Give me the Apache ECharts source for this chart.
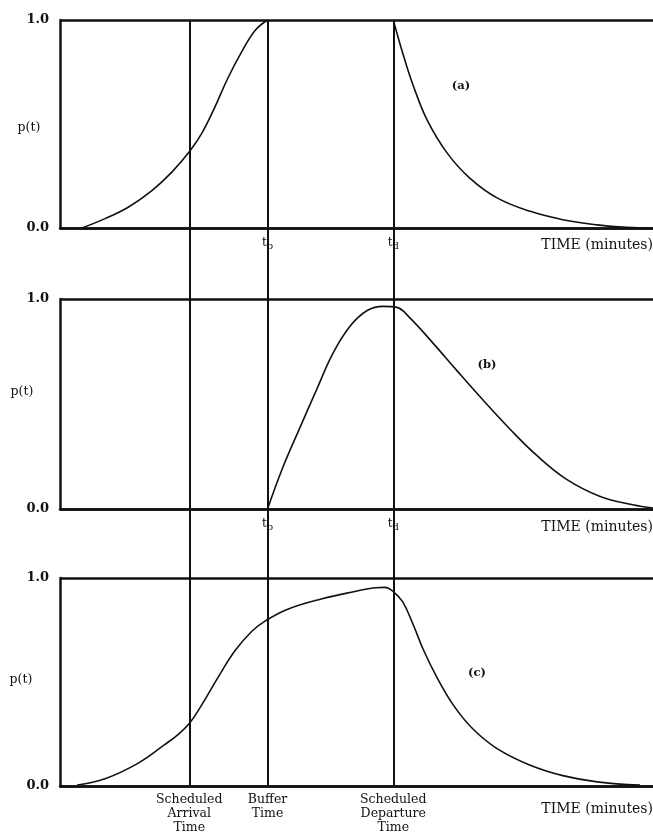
<!DOCTYPE html>
<html>
<head>
<meta charset="utf-8">
<script src="https://cdn.jsdelivr.net/npm/echarts@6/dist/echarts.min.js"></script>
<style>
  html, body { margin: 0; padding: 0; background: #fff; }
  #main { width: 653px; height: 840px; }
</style>
</head>
<body>
<div id="main"></div>
<script>
var myChart = echarts.init(document.getElementById('main'));

// time axis runs 0..100 (arbitrary minutes)
var markTimes = [21.8, 35, 56.2];
var markNames = ['Scheduled\nArrival\nTime', 'Buffer\nTime', 'Scheduled\nDeparture\nTime'];

// (a) rise up to buffer time, flat at 1, decay after departure
var curveARise = [[3.7, 0], [7.6, 0.045], [11.5, 0.1], [15.5, 0.18], [18.9, 0.27], [21.9, 0.37],
    [24.0, 0.46], [26.1, 0.58], [28.3, 0.72], [30.7, 0.85], [32.9, 0.95], [35, 1.0]];
var curveADecay = [[56.2, 1.0], [57.8, 0.84], [59.5, 0.69], [61.9, 0.52], [65.3, 0.36], [69.1, 0.24],
    [73.7, 0.145], [79.3, 0.08], [84.8, 0.04], [90.6, 0.015], [95.6, 0.003], [100, 0]];
// (b)
var curveB = [[35, 0], [37.6, 0.2], [40.5, 0.39], [43.3, 0.57], [46.0, 0.74], [48.9, 0.87],
    [51.8, 0.945], [54.5, 0.965], [56.8, 0.96], [59.0, 0.91], [62.9, 0.79], [66.9, 0.66],
    [71.3, 0.52], [75.9, 0.38], [80.4, 0.255], [85.5, 0.14], [91.1, 0.06], [96.6, 0.02], [100, 0.004]];
// (c)
var curveC = [[2.9, 0.005], [7.6, 0.035], [13.2, 0.11], [17.7, 0.2], [19.8, 0.245], [21.8, 0.3],
    [23.9, 0.39], [26.6, 0.52], [29.5, 0.65], [32.4, 0.745], [34.7, 0.795], [38.4, 0.85], [44.2, 0.9],
    [49.7, 0.935], [53.1, 0.953], [54.8, 0.955], [56.2, 0.935], [57.8, 0.885], [59.5, 0.78], [61.2, 0.66],
    [63.6, 0.52], [66.3, 0.39], [69.6, 0.275], [73.7, 0.18], [79.3, 0.1], [84.8, 0.05], [90.6, 0.02],
    [97.8, 0.004]];

var FONT = 'DejaVu Serif';
var INK = '#111';

var grids = [
    {left: 60, right: 0, top: 20, height: 208},
    {left: 60, right: 0, top: 299, height: 210},
    {left: 60, right: 0, top: 578, height: 208},
    {left: 60, right: 0, top: 20, height: 766}   // overlay for the long vertical lines
];

function panelXAxis(idx, labelVals, formatter, rich, margin) {
    return {
        type: 'value', gridIndex: idx, min: 0, max: 100,
        axisLine: {show: true, onZero: false, lineStyle: {color: INK, width: 2.5}},
        axisTick: {show: false},
        splitLine: {show: false},
        axisLabel: {
            customValues: labelVals,
            formatter: formatter,
            rich: rich,
            margin: margin,
            color: INK, fontFamily: FONT, fontSize: 12.5, lineHeight: 14
        }
    };
}

function panelYAxis(idx) {
    return {
        type: 'value', gridIndex: idx, min: 0, max: 1, interval: 1,
        axisLine: {show: true, lineStyle: {color: INK, width: 2.5}},
        axisTick: {show: false},
        splitLine: {show: true, lineStyle: {color: INK, width: 2.5}},
        axisLabel: {
            formatter: function (v) { return v.toFixed(1); },
            margin: 11, color: INK, fontFamily: FONT, fontSize: 13, fontWeight: 'bold'
        }
    };
}

var subRich = {
    t: {fontFamily: FONT, fontSize: 12, color: INK},
    s: {fontFamily: FONT, fontSize: 10, color: INK, padding: [6, 0, 0, 0]}
};
function subLabel(v) {
    var i = markTimes.indexOf(v);
    return '{t|t}{s|' + (i === 1 ? 'b' : 'd') + '}';
}
function nameLabel(v) {
    return markNames[markTimes.indexOf(v)];
}

function curveSeries(idx, data) {
    return {
        type: 'line', xAxisIndex: idx, yAxisIndex: idx, data: data,
        smooth: 0.4, showSymbol: false, silent: true,
        lineStyle: {color: INK, width: 1.6}, z: 3
    };
}

function freeText(x, y, text, align, size, weight) {
    return {
        type: 'text', x: x, y: y, silent: true,
        style: {text: text, fill: INK, font: (weight || 'normal') + ' ' + size + 'px "' + FONT + '"',
            align: align, verticalAlign: 'middle'}
    };
}

var option = {
    backgroundColor: '#fff',
    animation: false,
    grid: grids,
    xAxis: [
        panelXAxis(0, [markTimes[1], markTimes[2]], subLabel, subRich, 8),
        panelXAxis(1, [markTimes[1], markTimes[2]], subLabel, subRich, 8),
        panelXAxis(2, markTimes, nameLabel, null, 7),
        {type: 'value', gridIndex: 3, min: 0, max: 100, show: false}
    ],
    yAxis: [
        panelYAxis(0), panelYAxis(1), panelYAxis(2),
        {type: 'value', gridIndex: 3, min: 0, max: 1, show: false}
    ],
    series: [
        curveSeries(0, curveARise),
        curveSeries(0, curveADecay),
        curveSeries(1, curveB),
        curveSeries(2, curveC),
        {
            type: 'line', xAxisIndex: 3, yAxisIndex: 3, data: [], silent: true,
            markLine: {
                symbol: ['none', 'none'], silent: true, animation: false,
                label: {show: false},
                lineStyle: {color: INK, width: 2, type: 'solid'},
                data: markTimes.map(function (t) { return {xAxis: t}; })
            }
        }
    ],
    graphic: [
        freeText(29, 128, 'p(t)', 'center', 12.5),
        freeText(22, 392, 'p(t)', 'center', 12.5),
        freeText(21, 680, 'p(t)', 'center', 12.5),
        freeText(461, 86, '(a)', 'center', 11.5, 'bold'),
        freeText(487, 365, '(b)', 'center', 11.5, 'bold'),
        freeText(477, 673, '(c)', 'center', 11.5, 'bold'),
        freeText(653, 245, 'TIME (minutes)', 'right', 14),
        freeText(653, 527, 'TIME (minutes)', 'right', 14),
        freeText(653, 809, 'TIME (minutes)', 'right', 14)
    ]
};

myChart.setOption(option);
</script>
</body>
</html>
